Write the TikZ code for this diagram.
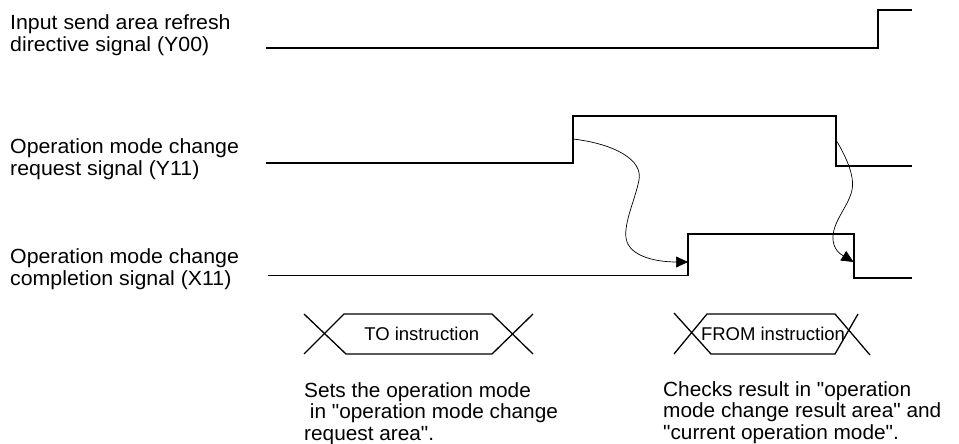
\documentclass[tikz,border=0pt]{standalone}
\usepackage{fontspec}
\setmainfont{Liberation Sans}[Ligatures=TeXOff]
\newfontfamily\lblfont{Liberation Sans}[Ligatures=TeXOff, FakeStretch=1.04]
\newfontfamily\notefont{Liberation Sans}[Ligatures=TeXOff, FakeStretch=1.015]
\usetikzlibrary{arrows.meta}
\tikzset{
  sig/.style={line width=1.8pt, line join=miter},
  hexline/.style={line width=1.3pt},
  flow/.style={line width=0.7pt, -{Triangle[length=12pt,width=11pt]}},
  lbl/.style={anchor=base west, inner sep=0pt, font=\lblfont\fontsize{20.5}{22}\selectfont},
  note/.style={anchor=base west, inner sep=0pt, font=\notefont\fontsize{20.5}{21.5}\selectfont},
  boxtxt/.style={inner sep=0pt, font=\fontsize{18.5}{20}\selectfont},
}
\newcommand{\lines}[1]{\begin{tabular}[t]{@{}l@{}}#1\end{tabular}}
\begin{document}
\begin{tikzpicture}[x=1pt,y=-1pt]
\useasboundingbox (0,0) rectangle (959,444);
% labels
\node[lbl] (l1) at (10,30) {\lines{Input send area refresh\\directive signal (Y00)}};
\node[lbl] (l2) at (10,153) {\lines{Operation mode change\\request signal (Y11)}};
\node[lbl] (l3) at (10,263) {\lines{Operation mode change\\completion signal (X11)}};
% signals
\draw[sig] (266,48) -- (878,48) -- (878,10) -- (912,10);
\draw[sig] (266,163.3) -- (573,163.3) -- (573,115.7) -- (836,115.7) -- (836,165.7) -- (912,165.7);
\draw[sig] (268,275.5) -- (688,275.5) -- (688,234) -- (854,234) -- (854,277.7) -- (912,277.7);
% arrow end points
\coordinate (a1s) at (573,139);
\coordinate (a1e) at (688,262);
\coordinate (a2s) at (836,140);
\coordinate (a2e) at (853.5,262);
\draw[flow] (a1s) .. controls (615,144) and (643,160) .. (639,180)
  .. controls (635,200) and (624,222) .. (626,238)
  .. controls (629,258) and (660,262) .. (a1e);
\draw[flow] (a2s) .. controls (845,155) and (855,175) .. (852,190)
  .. controls (849,205) and (834,220) .. (833,236)
  .. controls (832,250) and (842,255) .. (a2e);
% TO instruction
\draw[hexline] (304,314) -- (346,354) -- (492,354) -- (533,314);
\draw[hexline] (304,354) -- (344,314) -- (492,314) -- (533,354);
\node[boxtxt] (to) at (421.7,333.5) {TO instruction};
% FROM instruction
\draw[hexline] (674,313) -- (711,354) -- (835,354) -- (858,314);
\draw[hexline] (674,354) -- (707,314) -- (835,314) -- (870,355);
\node[boxtxt] (from) at (773,333.5) {FROM instruction};
% notes
\node[note] (n1) at (304,397) {\lines{Sets the operation mode\\\ in "operation mode change\\request area".}};
\node[note] (n2) at (663,396) {\lines{Checks result in "operation\\mode change result area" and\\"current operation mode".}};
\end{tikzpicture}
\end{document}
